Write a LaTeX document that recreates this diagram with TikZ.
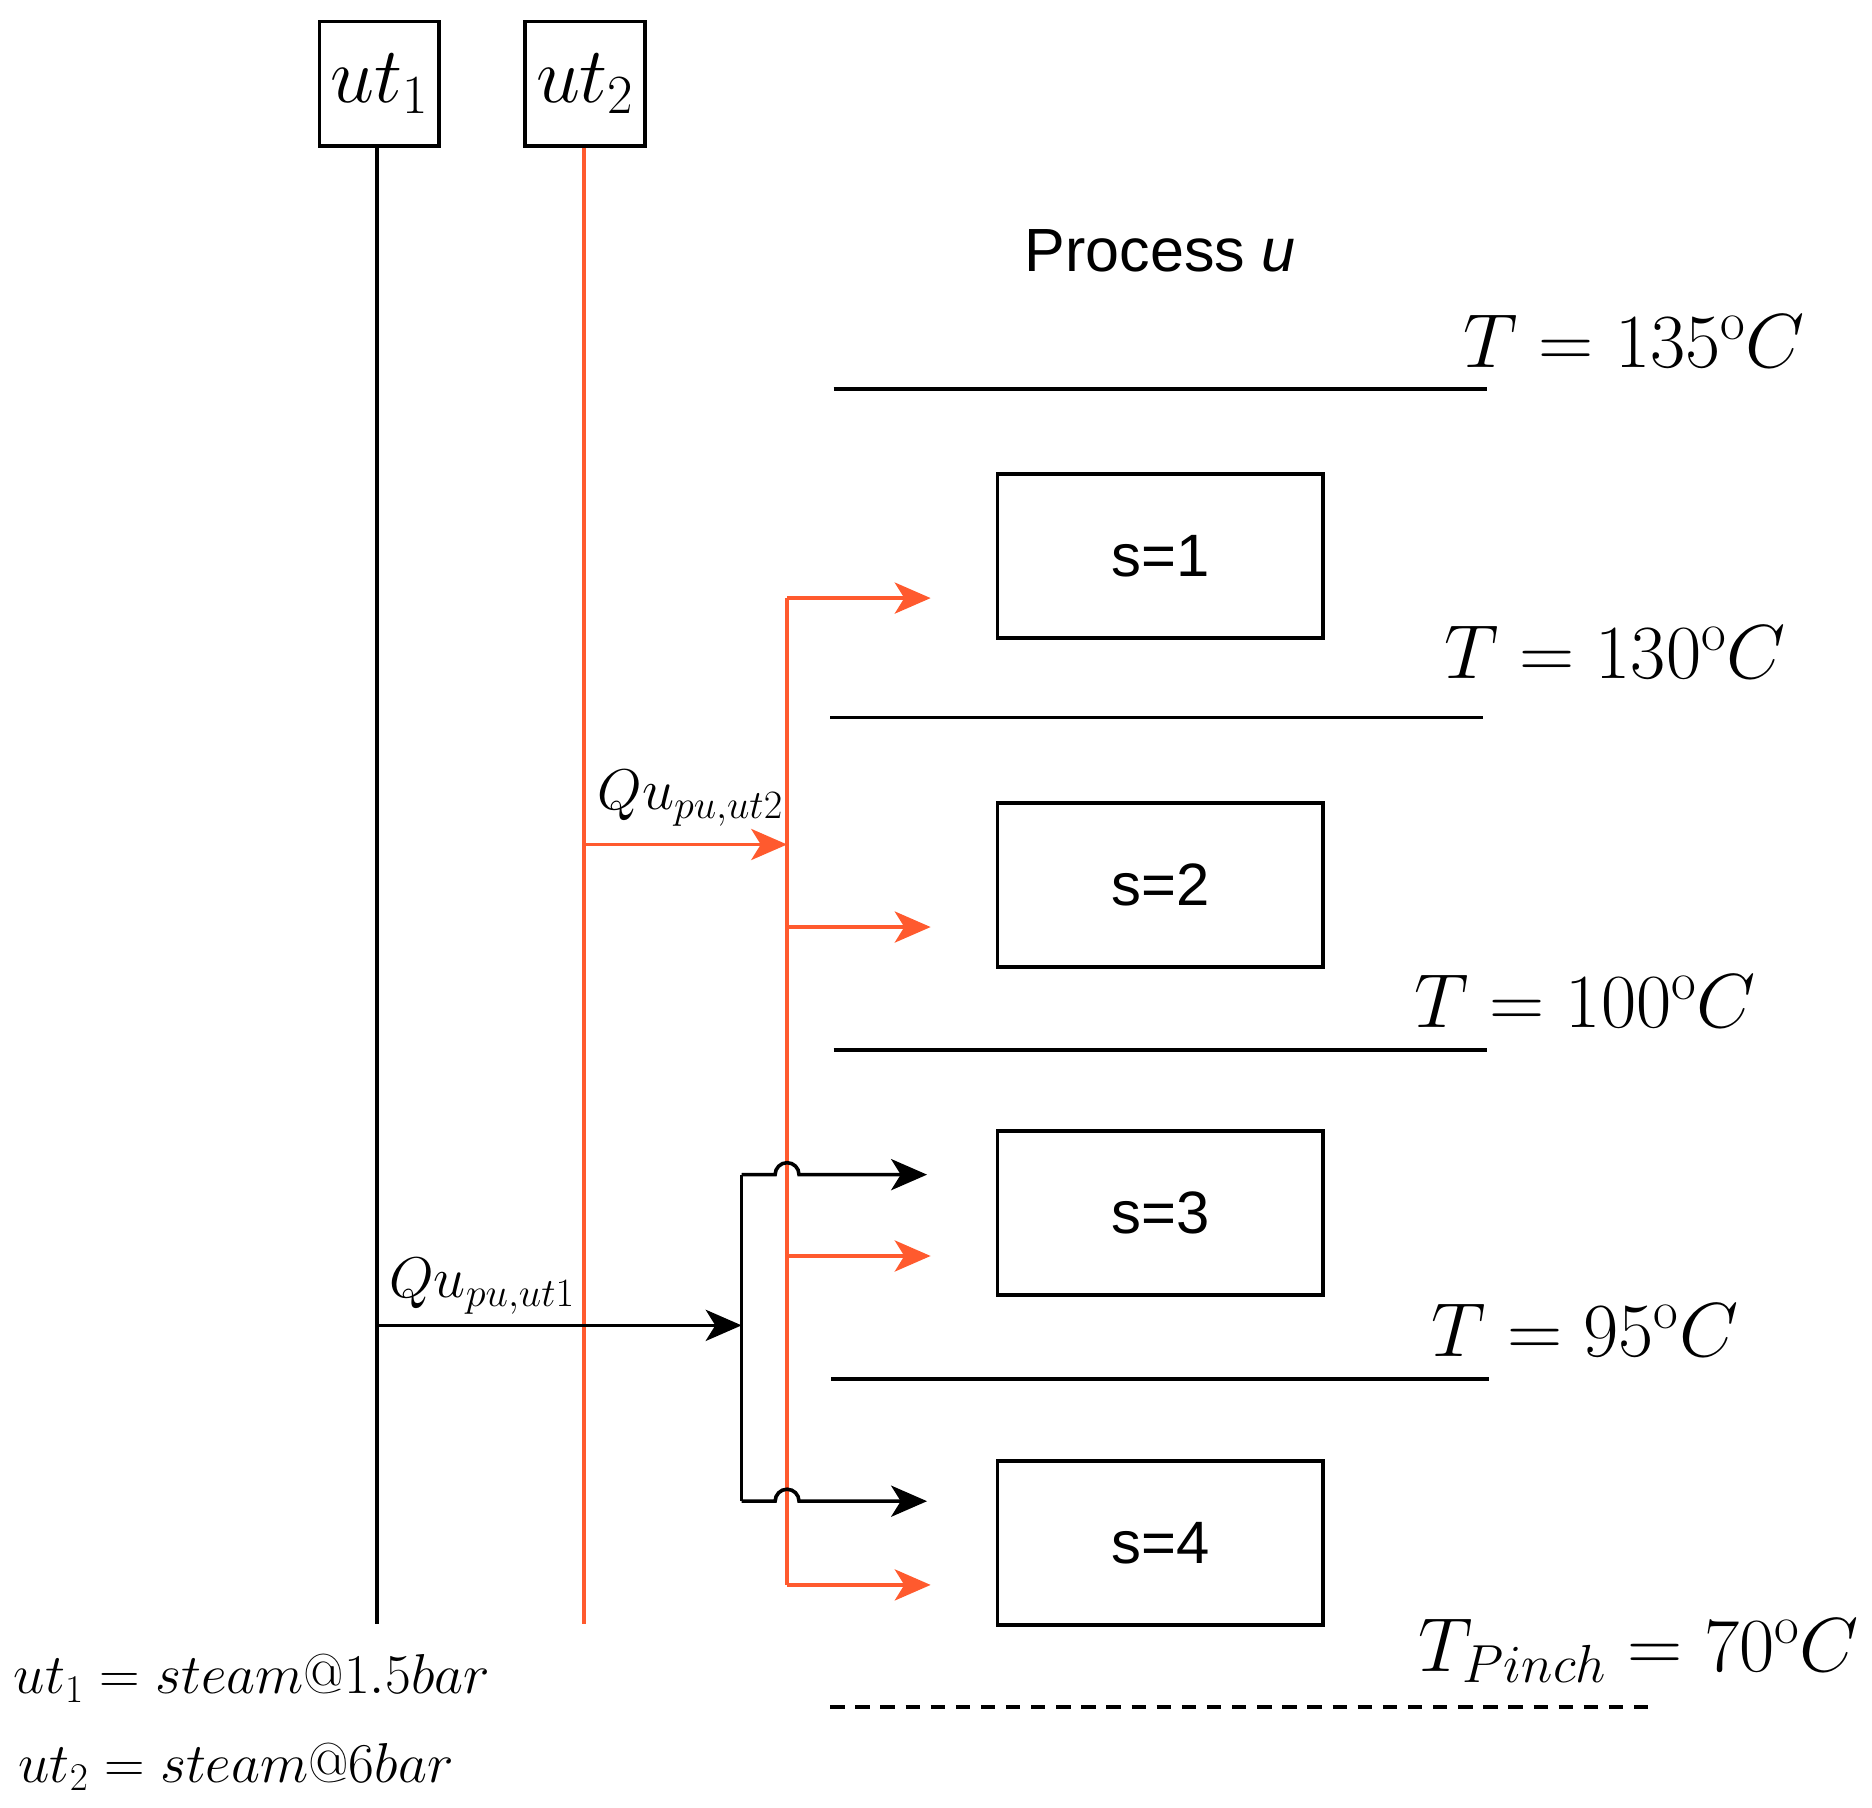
\RequirePackage{fix-cm}
\documentclass[tikz,border=0pt]{standalone}
\usepackage{fontspec}
\usetikzlibrary{arrows.meta}
\newfontfamily\sansf{Liberation Sans}
\definecolor{rd}{HTML}{FF5A2E}
\begin{document}
\begin{tikzpicture}[x=1pt,y=-1pt,
  ln/.style={line width=3pt},
  arr/.style={ln,-{Stealth[length=30pt,width=26pt,inset=8pt]}},
  bx/.style={draw,ln,minimum width=272pt,minimum height=137pt,font=\sansf\fontsize{50}{56}\selectfont},
  ub/.style={draw,ln,minimum width=100pt,minimum height=104pt,inner sep=0pt,font=\fontsize{66}{72}\selectfont},
  tl/.style={font=\fontsize{64}{70}\selectfont},
  ml/.style={font=\fontsize{48}{52}\selectfont},
  bl/.style={font=\fontsize{47}{52}\selectfont}]
\useasboundingbox (0,0) rectangle (1565,1511);
\node[ub] (u1) at (317,70) {$ut_1$};
\node[ub] (u2) at (489,70) {$ut_2$};
\coordinate (u1b) at (315,1358);
\coordinate (u2b) at (488,1358);
\draw[ln] (u1.south -| u1b) -- (u1b);
\draw[ln,rd] (u2.south -| u2b) -- (u2b);
\node[font=\sansf\fontsize{51}{56}\selectfont] (pu) at (970,210) {Process \textit{u}};
\node[tl] (t1) at (1366,285) {$T=135^{\mathrm{o}}C$};
\node[tl] (t2) at (1350,545) {$T=130^{\mathrm{o}}C$};
\node[tl] (t3) at (1325,837) {$T=100^{\mathrm{o}}C$};
\node[tl] (t4) at (1325,1112) {$T=95^{\mathrm{o}}C$};
\node[tl] (t5) at (1370,1380) {$T_{Pinch}=70^{\mathrm{o}}C$};
\draw[ln] (697,325) -- (1243,325);
\draw[ln] (694,600) -- (1240,600);
\draw[ln] (697,878) -- (1243,878);
\draw[ln] (695,1153) -- (1245,1153);
\draw[ln,dash pattern=on 12pt off 9pt] (694,1427) -- (1382,1427);
\node[bx] (s1) at (970,465) {s=1};
\node[bx] (s2) at (970,740) {s=2};
\node[bx] (s3) at (970,1014) {s=3};
\node[bx] (s4) at (970,1290) {s=4};
% red
\coordinate (r0) at (488,706);
\coordinate (rj) at (658,706);
\draw[arr,rd] (r0) -- (rj);
\draw[ln,rd] (658,500) -- (658,1325);
\foreach \y in {500,775,1050,1325} \draw[arr,rd] (658,\y) -- (778,\y);
\node[ml,anchor=south] (q2) at (577,694) {$Qu_{pu,ut2}$};
% black
\coordinate (b0) at (315,1108);
\coordinate (bj) at (620,1108);
\draw[arr] (b0) -- (bj);
\draw[ln] (620,982) -- (620,1255);
\foreach \y in {982,1255} \draw[arr] (620,\y) -- (648,\y) arc (180:360:10) -- (775,\y);
\node[ml,anchor=south] (q1) at (403,1102) {$Qu_{pu,ut1}$};
\node[bl,anchor=west] (l1) at (8,1403) {$ut_1=steam@1.5bar$};
\node[bl,anchor=west] (l2) at (12,1477) {$ut_2=steam@6bar$};
\end{tikzpicture}
\end{document}
